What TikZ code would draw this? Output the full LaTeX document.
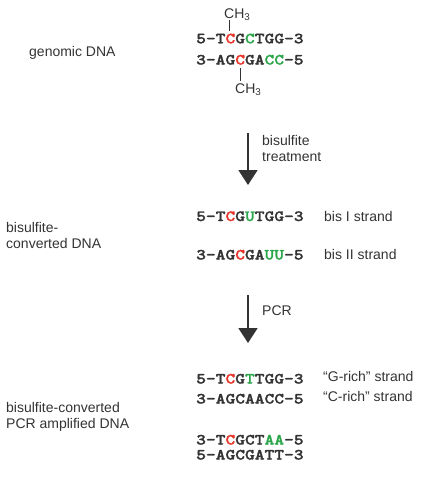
\documentclass[tikz,border=0pt]{standalone}
\usepackage{fontspec}
\setmainfont{Liberation Sans}
\newfontfamily\seqfont{lmmonolt10-bold.otf}[FakeStretch=1.2,FakeBold=1.6]
\usepackage{xcolor}
\usetikzlibrary{arrows.meta}
\definecolor{cInk}{HTML}{333333}
\definecolor{cRd}{HTML}{E8352B}
\definecolor{cGn}{HTML}{2BA64A}
\tikzset{
  seq/.style ={anchor=base west,inner sep=0pt,text=cInk,font=\seqfont\fontsize{15.5}{16}\selectfont},
  lab/.style ={anchor=base west,inner sep=0pt,text=cInk,align=left,font=\fontsize{14}{16}\selectfont},
  ar/.style  ={-{Triangle[width=19pt,length=15pt]},line width=1.8pt,cInk},
  stem/.style={line width=0.8pt,cInk},
}
\newcommand{\rd}[1]{\textcolor{cRd}{#1}}
\newcommand{\gn}[1]{\textcolor{cGn}{#1}}

\begin{document}
\begin{tikzpicture}[x=1pt,y=-1pt]
\useasboundingbox (0,0) rectangle (426,479);
% genomic DNA
\node[lab] (gDNA) at (29,56) {genomic DNA};
\node[lab] (meT) at (224,18) {CH\textsubscript{3}};
\node[seq] (g1) at (196,43.3) {5-T\rd{C}G\gn{C}TGG-3};
\node[seq] (g2) at (196,64.5) {3-AG\rd{C}GA\gn{CC}-5};
\node[lab] (meB) at (235,93) {CH\textsubscript{3}};
\coordinate (mT1) at (229,20); \coordinate (mT2) at (229,31);
\coordinate (mB1) at (240,68); \coordinate (mB2) at (240,81);
\draw[stem] (mT1)--(mT2);
\draw[stem] (mB1)--(mB2);
% bisulfite step
\coordinate (a1s) at (248,133); \coordinate (a1e) at (248,185);
\draw[ar] (a1s)--(a1e);
\node[lab] (bisT) at (262,161) {bisulfite\\treatment};
\node[lab] (bcDNA) at (6,248) {bisulfite-\\converted DNA};
\node[seq] (b1) at (196,221) {5-T\rd{C}G\gn{U}TGG-3};
\node[seq] (b2) at (196,259.5) {3-AG\rd{C}GA\gn{UU}-5};
\node[lab] (b1l) at (324,221) {bis I strand};
\node[lab] (b2l) at (324,259.5) {bis II strand};
% PCR step
\coordinate (a2s) at (248,295); \coordinate (a2e) at (248,343);
\draw[ar] (a2s)--(a2e);
\node[lab] (pcrT) at (262,315) {PCR};
\node[lab] (pDNA) at (6,428) {bisulfite-converted\\PCR amplified DNA};
\node[seq] (p1) at (196,383.5) {5-T\rd{C}G\gn{T}TGG-3};
\node[seq] (p2) at (196,403.5) {3-AGCAACC-5};
\node[seq] (p3) at (196,444.5) {3-T\rd{C}GCT\gn{AA}-5};
\node[seq] (p4) at (196,459.5) {5-AGCGATT-3};
\node[lab] (p1l) at (323,381.5) {“G-rich” strand};
\node[lab] (p2l) at (323,401) {“C-rich” strand};
\end{tikzpicture}
\end{document}
